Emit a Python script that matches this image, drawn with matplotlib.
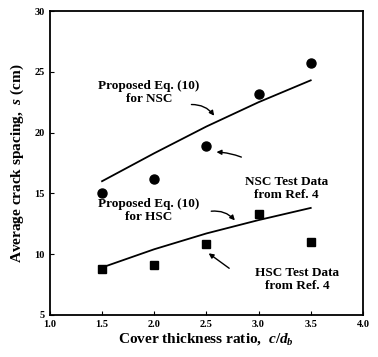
import matplotlib.pyplot as plt

ratio = [1.5, 2.0, 2.5, 3.0, 3.5]
nsc_test = [15.0, 16.2, 18.9, 23.2, 25.7]
hsc_test = [8.8, 9.1, 10.8, 13.3, 11.0]
nsc_eq = [16.0, 18.3, 20.5, 22.5, 24.3]
hsc_eq = [8.9, 10.4, 11.7, 12.8, 13.8]

plt.rcParams['font.family'] = ['Liberation Serif', 'DejaVu Serif']
plt.rcParams['font.weight'] = 'bold'
plt.rcParams['mathtext.fontset'] = 'custom'
plt.rcParams['mathtext.rm'] = 'Liberation Serif:bold'
plt.rcParams['mathtext.it'] = 'Liberation Serif:italic:bold'

fig = plt.figure(figsize=(3.78, 3.57), dpi=100)
ax = fig.add_axes([0.132, 0.118, 0.828, 0.851])

ax.plot(ratio, nsc_eq, color='black', lw=1.3)
ax.plot(ratio, hsc_eq, color='black', lw=1.3)
ax.plot(ratio, nsc_test, 'o', color='black', ms=6.5)
ax.plot(ratio, hsc_test, 's', color='black', ms=6)

ax.set_xlim(1.0, 4.0)
ax.set_ylim(5, 30)
ax.set_xticks([1.0, 1.5, 2.0, 2.5, 3.0, 3.5, 4.0])
ax.set_yticks([5, 10, 15, 20, 25, 30])
ax.tick_params(direction='in', length=3, labelsize=7.5, width=0.8)
for s in ax.spines.values():
    s.set_linewidth(1.3)

ax.set_xlabel(r'Cover thickness ratio,  $\mathit{c/d}_{b}$', fontsize=11,
              fontweight='bold', labelpad=2)
ax.set_ylabel(r'Average crack spacing,  $\mathit{s}$ (cm)', fontsize=11,
              fontweight='bold', labelpad=6)

fs = 9.5
arrow = dict(arrowstyle='-|>', color='black', lw=1.0, mutation_scale=7)
ax.text(1.95, 23.3, 'Proposed Eq. (10)\nfor NSC', ha='center', va='center',
        fontsize=fs, fontweight='bold', linespacing=1.15)
ax.annotate('', xy=(2.59, 21.2), xytext=(2.33, 22.3),
            arrowprops=dict(arrow, connectionstyle='arc3,rad=-0.3'))
ax.text(3.27, 15.4, 'NSC Test Data\nfrom Ref. 4', ha='center', va='center',
        fontsize=fs, fontweight='bold', linespacing=1.15)
ax.annotate('', xy=(2.57, 18.4), xytext=(2.86, 17.9),
            arrowprops=dict(arrow, connectionstyle='arc3,rad=0.1'))
ax.text(1.95, 13.6, 'Proposed Eq. (10)\nfor HSC', ha='center', va='center',
        fontsize=fs, fontweight='bold', linespacing=1.15)
ax.annotate('', xy=(2.79, 12.6), xytext=(2.52, 13.5),
            arrowprops=dict(arrow, connectionstyle='arc3,rad=-0.3'))
ax.text(3.37, 7.9, 'HSC Test Data\nfrom Ref. 4', ha='center', va='center',
        fontsize=fs, fontweight='bold', linespacing=1.15)
ax.annotate('', xy=(2.5, 10.2), xytext=(2.74, 8.7),
            arrowprops=arrow)

fig.savefig('out.png', dpi=100)
